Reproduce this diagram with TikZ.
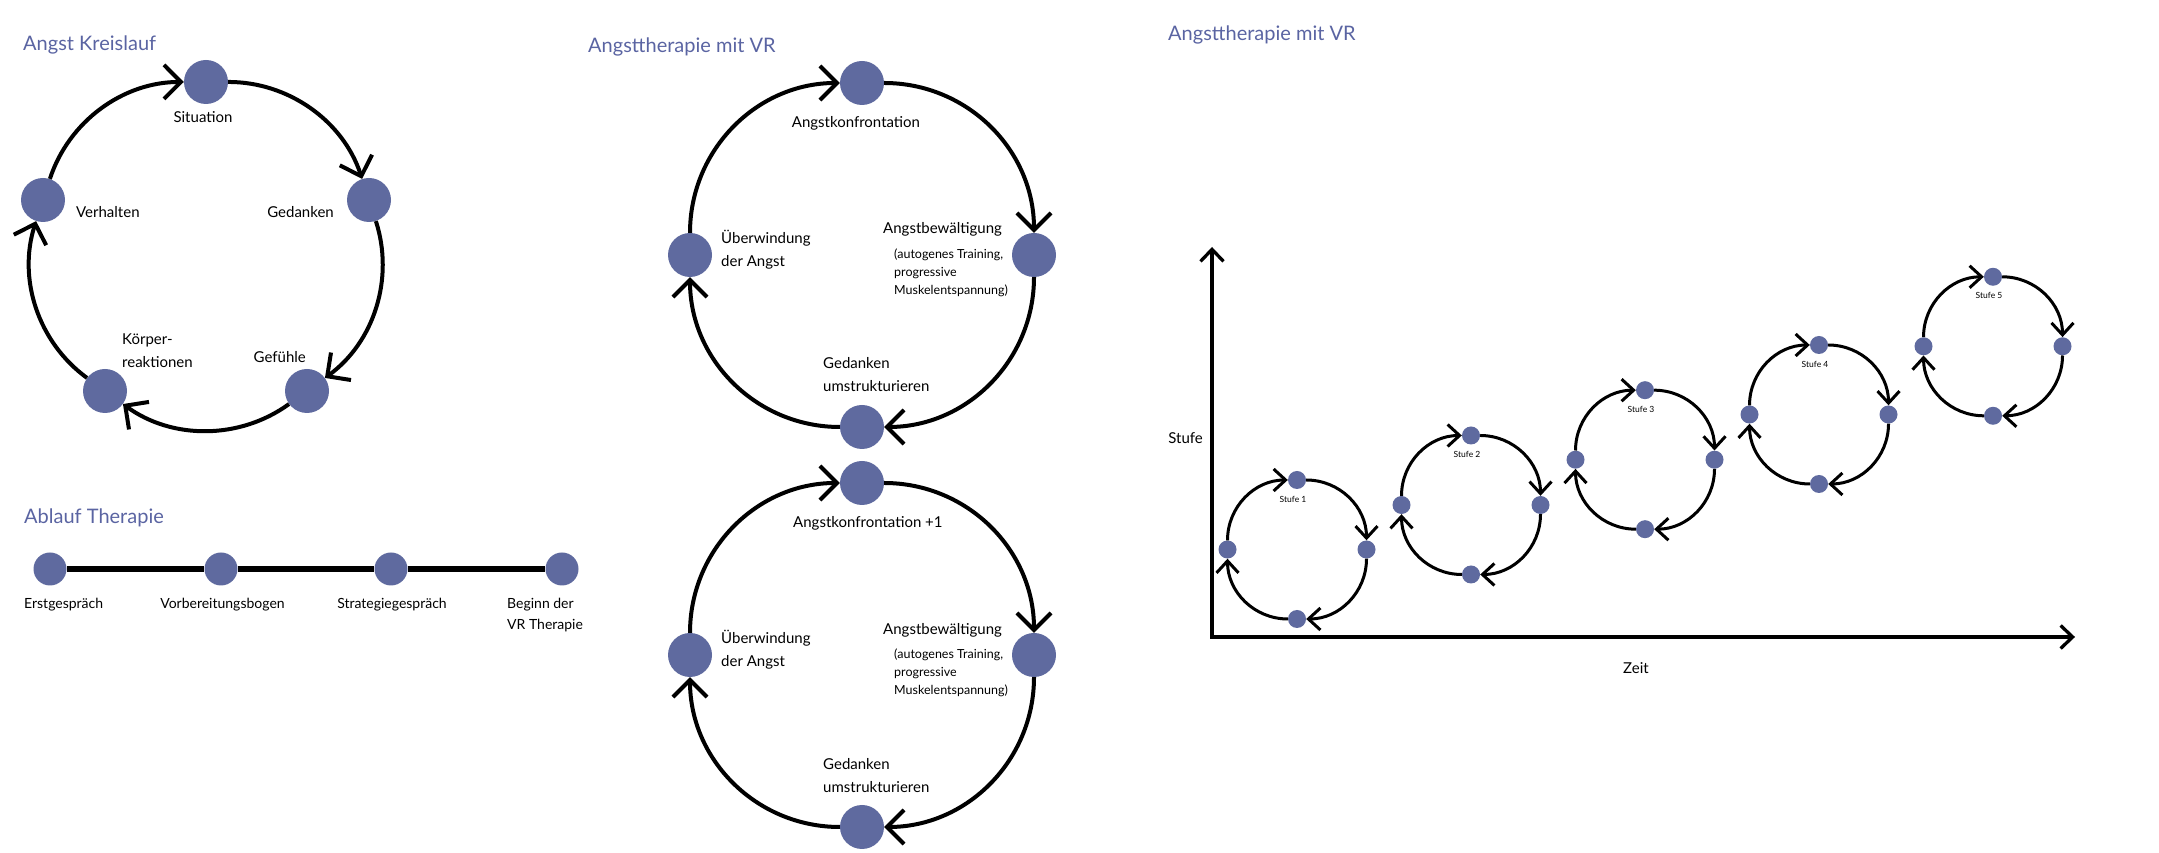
\documentclass[tikz,border=0pt]{standalone}
\usepackage{fontspec}
\setmainfont{Lato}
\usetikzlibrary{arrows.meta}
\definecolor{DOT}{HTML}{5F6A9F}
\definecolor{HEAD}{HTML}{5A64A2}
\definecolor{INK}{HTML}{000000}

\begin{document}
\begin{tikzpicture}[x=1pt,y=1pt]
\tikzset{bigdot/.style={circle,fill=DOT,minimum size=44pt,inner sep=0pt},
 middot/.style={circle,fill=DOT,minimum size=33pt,inner sep=0pt},
 smalldot/.style={circle,fill=DOT,minimum size=18pt,inner sep=0pt},
 ttl/.style={anchor=west,inner sep=0pt,text=HEAD,font=\fontsize{20}{24}\selectfont},
 lbl/.style={inner sep=0pt,align=left,font=\fontsize{15}{23}\selectfont},
 sml/.style={inner sep=0pt,align=left,font=\fontsize{12.5}{18}\selectfont},
 stepl/.style={inner sep=0pt,align=left,font=\fontsize{14}{21}\selectfont},
 tinylbl/.style={inner sep=0pt,font=\fontsize{8.5}{10}\selectfont},
 cyc/.style={line width=4pt,INK,-{Straight Barb[length=17pt,width=34pt]}},
 smallcyc/.style={line width=3pt,INK,-{Straight Barb[length=12pt,width=22pt]}},
 track/.style={line width=5.3pt,INK},
 axis/.style={line width=3.3pt,INK,{Straight Barb[length=12pt,width=23pt]}-{Straight Barb[length=12pt,width=23pt]}}}
\useasboundingbox (0,0) rectangle (2159,853);

% titles
\node[ttl] (t1) at (23,808) {Angst Kreislauf};
\node[ttl] (t2) at (588,806) {Angsttherapie mit VR};
\node[ttl] (t3) at (1168,818) {Angsttherapie mit VR};
\node[ttl] (t4) at (24,335) {Ablauf Therapie};

% Angst Kreislauf
\node[bigdot] (sit) at (206,771) {};
\node[bigdot] (ged) at (369,653) {};
\node[bigdot] (gef) at (307,462) {};
\node[bigdot] (kor) at (105,462) {};
\node[bigdot] (ver) at (43,653) {};
\draw[cyc] (sit) to[bend left=36,looseness=0.94] (ged);
\draw[cyc] (ged) to[bend left=36,looseness=0.94] (gef);
\draw[cyc] (gef) to[bend left=36,looseness=0.94] (kor);
\draw[cyc] (kor) to[bend left=36,looseness=0.94] (ver);
\draw[cyc] (ver) to[bend left=36,looseness=0.94] (sit);
\node[lbl] (sitl) at (203,736) {Situation};
\node[lbl,anchor=east] (gedl) at (334,641) {Gedanken};
\node[lbl,anchor=east] (gefl) at (306,496) {Gefühle};
\node[lbl,anchor=west] (korl) at (122,502) {Körper-\\reaktionen};
\node[lbl,anchor=west] (verl) at (76,641) {Verhalten};

% Ablauf Therapie
\node[middot] (a1) at (50,284) {};
\node[middot] (a2) at (221,284) {};
\node[middot] (a3) at (391,284) {};
\node[middot] (a4) at (562,284) {};
\draw[track] (a1) -- (a2);
\draw[track] (a2) -- (a3);
\draw[track] (a3) -- (a4);
\node[stepl,anchor=west] (a1l) at (24,248) {Erstgespräch};
\node[stepl] (a2l) at (222.5,248) {Vorbereitungsbogen};
\node[stepl] (a3l) at (392,248) {Strategiegespräch};
\node[stepl,anchor=west] (a4l) at (507,237.5) {Beginn der\\VR Therapie};

% Angsttherapie mit VR, erste Runde
\node[bigdot] (konf) at (862,770) {};
\node[bigdot] (bew) at (1034,598) {};
\node[bigdot] (umst) at (862,426) {};
\node[bigdot] (ueb) at (690,598) {};
\draw[cyc] (konf) to[bend left=45] (bew);
\draw[cyc] (bew) to[bend left=45] (umst);
\draw[cyc] (umst) to[bend left=45] (ueb);
\draw[cyc] (ueb) to[bend left=45] (konf);
\node[lbl] (konfl) at (856,730) {Angstkonfrontation};
\node[lbl,anchor=west] (bewl) at (883,624) {Angstbewältigung};
\node[sml,anchor=west] (bews) at (894,580) {(autogenes Training,\\progressive\\Muskelentspannung)};
\node[lbl,anchor=west] (uebl) at (721,603) {Überwindung\\der Angst};
\node[lbl,anchor=west] (umstl) at (823,478) {Gedanken\\umstrukturieren};

% zweite Runde
\node[bigdot] (konfb) at (862,370) {};
\node[bigdot] (bewb) at (1034,198) {};
\node[bigdot] (umstb) at (862,26) {};
\node[bigdot] (uebb) at (690,198) {};
\draw[cyc] (konfb) to[bend left=45] (bewb);
\draw[cyc] (bewb) to[bend left=45] (umstb);
\draw[cyc] (umstb) to[bend left=45] (uebb);
\draw[cyc] (uebb) to[bend left=45] (konfb);
\node[lbl,anchor=west] (konfbl) at (793,330) {Angstkonfrontation +1};
\node[lbl,anchor=west] (bewbl) at (883,223) {Angstbewältigung};
\node[sml,anchor=west] (bewbs) at (894,180) {(autogenes Training,\\progressive\\Muskelentspannung)};
\node[lbl,anchor=west] (uebbl) at (721,203) {Überwindung\\der Angst};
\node[lbl,anchor=west] (umstbl) at (823,77) {Gedanken\\umstrukturieren};

% Stufen
\coordinate (org) at (1212,216);
\coordinate (ytop) at (1212,606);
\coordinate (xend) at (2075,216);
\draw[axis] (ytop) -- (org) -- (xend);
\node[lbl,anchor=east] (stufel) at (1203,415) {Stufe};
\node[lbl] (zeitl) at (1636,185) {Zeit};
\foreach \i/\cx/\cy in {1/1297/303.5,2/1471/348,3/1645/393.3,4/1819/438.5,5/1993/506.7}{
 \node[smalldot] (s\i n) at (\cx,\cy+69.5) {};
 \node[smalldot] (s\i e) at (\cx+69.5,\cy) {};
 \node[smalldot] (s\i s) at (\cx,\cy-69.5) {};
 \node[smalldot] (s\i w) at (\cx-69.5,\cy) {};
 \draw[smallcyc] (s\i n) to[bend left=45] (s\i e);
 \draw[smallcyc] (s\i e) to[bend left=45] (s\i s);
 \draw[smallcyc] (s\i s) to[bend left=45] (s\i w);
 \draw[smallcyc] (s\i w) to[bend left=45] (s\i n);
 \node[tinylbl] (s\i l) at (\cx-4,\cy+50.5) {Stufe \i};
}
\end{tikzpicture}
\end{document}
